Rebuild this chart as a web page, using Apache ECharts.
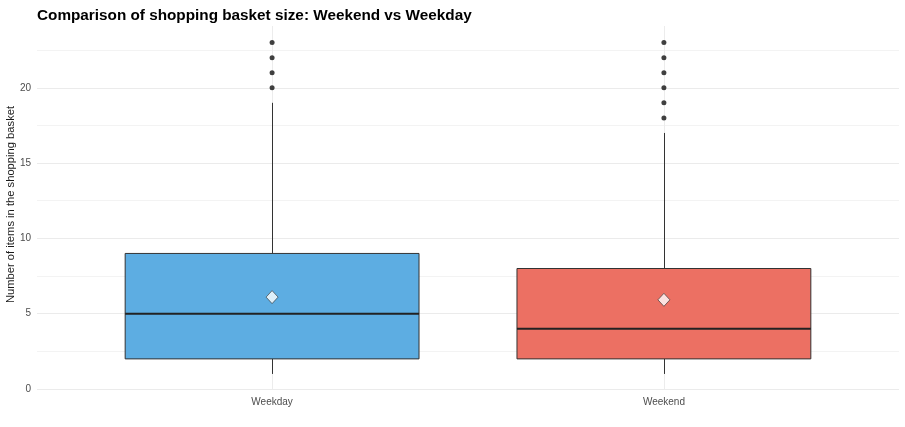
<!DOCTYPE html>
<html>
<head>
<meta charset="utf-8">
<script src="https://cdn.jsdelivr.net/npm/echarts@6/dist/echarts.min.js"></script>
<style>html,body{margin:0;padding:0;background:#fff;}#chart{width:905px;height:427px;}</style>
</head>
<body>
<div id="chart"></div>
<script>
const categories = ['Weekday', 'Weekend'];
const categoryPositions = [1, 2];
// [min whisker, Q1, median, Q3, max whisker]
const boxStats = [
  [1, 2, 5, 9, 19],
  [1, 2, 4, 8, 17]
];
const means = [6.1, 5.92];
const weekdayOutliers = [20, 21, 22, 23];
const weekendOutliers = [18, 19, 20, 21, 22, 23];
const boxColors = ['#5DADE2', '#EC7063'];
const yTickLabels = [0, 5, 10, 15, 20];

const boxData = boxStats.map((s, i) => [categoryPositions[i]].concat(s));
const outlierData = weekdayOutliers.map(v => [categoryPositions[0], v])
  .concat(weekendOutliers.map(v => [categoryPositions[1], v]));
const meanData = means.map((m, i) => [categoryPositions[i], m]);

const chart = echarts.init(document.getElementById('chart'));
const halfWidth = 0.375;

chart.setOption({
  animation: false,
  backgroundColor: '#ffffff',
  textStyle: { fontFamily: 'Liberation Sans, Arial, sans-serif' },
  title: {
    text: 'Comparison of shopping basket size: Weekend vs Weekday',
    left: 32, top: 3,
    textStyle: { fontSize: 15.3, fontWeight: 'bold', color: '#000', fontFamily: 'Liberation Sans, Arial, sans-serif' }
  },
  grid: { left: 37, right: 6, top: 26, bottom: 38, containLabel: false, outerBoundsMode: 'none' },
  xAxis: {
    type: 'value', min: 0.4, max: 2.6, interval: 0.2,
    axisLine: { show: false }, axisTick: { show: false },
    axisLabel: {
      color: '#4d4d4d', fontSize: 10, margin: 8,
      showMinLabel: true, showMaxLabel: true,
      formatter: function (v) {
        for (let i = 0; i < categoryPositions.length; i++) {
          if (Math.abs(v - categoryPositions[i]) < 1e-6) return categories[i];
        }
        return '';
      }
    },
    splitLine: {
      show: true,
      showMinLine: false, showMaxLine: false,
      lineStyle: { color: ['transparent', 'transparent', '#ececec', 'transparent', 'transparent'], width: 1 }
    }
  },
  yAxis: {
    type: 'value', min: 0, max: 24.1, interval: 2.5,
    name: 'Number of items in the shopping basket',
    nameLocation: 'middle', nameGap: 21, nameMoveOverlap: false,
    nameTextStyle: { fontSize: 11.2, color: '#1a1a1a', padding: [0, 0, 0, 6] },
    axisLine: { show: false }, axisTick: { show: false },
    axisLabel: {
      color: '#4d4d4d', fontSize: 10, margin: 6,
      formatter: function (v) {
        for (let i = 0; i < yTickLabels.length; i++) {
          if (Math.abs(v - yTickLabels[i]) < 1e-6) return String(yTickLabels[i]);
        }
        return '';
      }
    },
    splitLine: {
      show: true, showMaxLine: false,
      lineStyle: { color: ['#ebebeb', '#f3f3f3'], width: 1 }
    }
  },
  series: [
    {
      type: 'custom',
      data: boxData,
      encode: { x: 0, y: [1, 2, 3, 4, 5] },
      z: 2,
      renderItem: function (params, api) {
        const x = api.value(0);
        const pMin = api.coord([x, api.value(1)]);
        const pQ1 = api.coord([x, api.value(2)]);
        const pMed = api.coord([x, api.value(3)]);
        const pQ3 = api.coord([x, api.value(4)]);
        const pMax = api.coord([x, api.value(5)]);
        const left = api.coord([x - halfWidth, 0])[0];
        const right = api.coord([x + halfWidth, 0])[0];
        const cx = Math.round(pMin[0]) + 0.5;
        const lineStyle = { stroke: '#333333', lineWidth: 1 };
        return {
          type: 'group',
          children: [
            { type: 'line', shape: { x1: cx, y1: pMax[1], x2: cx, y2: pQ3[1] }, style: lineStyle },
            { type: 'line', shape: { x1: cx, y1: pQ1[1], x2: cx, y2: pMin[1] }, style: lineStyle },
            { type: 'rect', shape: { x: left, y: pQ3[1], width: right - left, height: pQ1[1] - pQ3[1] },
              style: { fill: boxColors[params.dataIndex], stroke: '#333333', lineWidth: 1 } },
            { type: 'line', shape: { x1: left, y1: pMed[1], x2: right, y2: pMed[1] },
              style: { stroke: '#222222', lineWidth: 2 } }
          ]
        };
      }
    },
    {
      type: 'scatter',
      data: outlierData,
      symbol: 'circle', symbolSize: 5,
      itemStyle: { color: '#111111' },
      z: 3
    },
    {
      type: 'scatter',
      data: meanData,
      symbol: 'diamond', symbolSize: [12, 13],
      itemStyle: { color: '#ffffff', borderColor: '#333333', borderWidth: 0.8 },
      z: 4
    }
  ]
});
</script>
</body>
</html>
